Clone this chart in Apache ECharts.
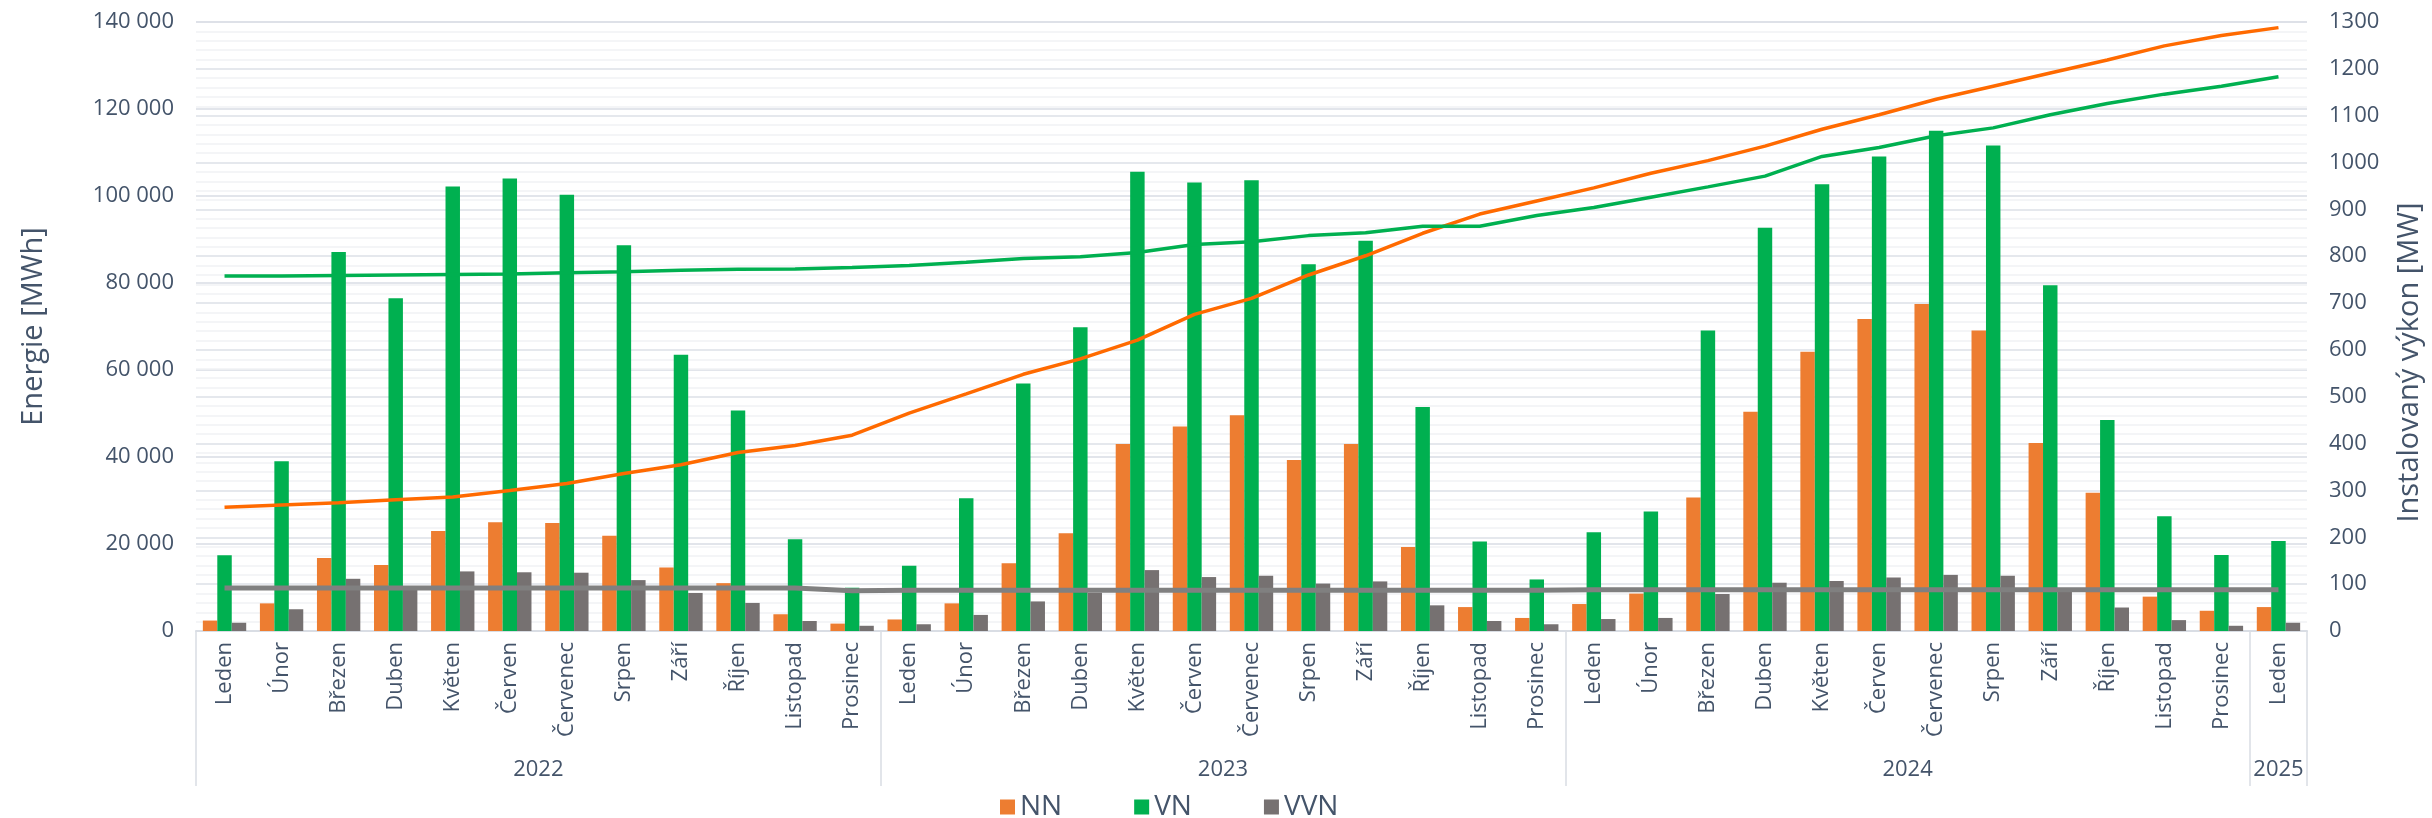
<!DOCTYPE html>
<html><head><meta charset="utf-8">
<script src="https://cdn.jsdelivr.net/npm/echarts@6/dist/echarts.min.js"></script>
<style>html,body{margin:0;padding:0;background:#fff}#c{width:2432px;height:818px}</style>
</head><body><div id="c"></div>
<script>
const monthNames = ['Leden','Únor','Březen','Duben','Květen','Červen','Červenec','Srpen','Září','Říjen','Listopad','Prosinec'];
const months = [...monthNames, ...monthNames, ...monthNames, 'Leden'];
const years = [
  2022,2022,2022,2022,2022,2022,2022,2022,2022,2022,2022,2022,
  2023,2023,2023,2023,2023,2023,2023,2023,2023,2023,2023,2023,
  2024,2024,2024,2024,2024,2024,2024,2024,2024,2024,2024,2024,
  2025
];
// Energie [MWh]
const nnEnergy = [
  2400, 6350, 16800, 15200, 23000, 25000, 24800, 21900, 14600, 11000, 3850, 1700,
  2650, 6350, 15600, 22500, 43000, 47000, 49600, 39300, 43000, 19300, 5500, 3000,
  6200, 8600, 30700, 50400, 64200, 71700, 75200, 69100, 43200, 31800, 7900, 4650,
  5500
];
const vnEnergy = [
  17400, 39000, 87100, 76500, 102200, 104000, 100300, 88700, 63500, 50700, 21100, 9950,
  15000, 30500, 56900, 69800, 105600, 103100, 103600, 84300, 89700, 51500, 20600, 11850,
  22700, 27500, 69100, 92700, 102700, 109100, 115000, 111600, 79500, 48500, 26400, 17500,
  20700
];
const vvnEnergy = [
  1900, 5000, 12000, 10200, 13700, 13500, 13400, 11700, 8750, 6450, 2300, 1200,
  1550, 3700, 6800, 8800, 14000, 12400, 12700, 10900, 11400, 5900, 2300, 1550,
  2750, 3000, 8500, 11100, 11500, 12300, 12900, 12700, 9600, 5400, 2500, 1200,
  1900
];
// Instalovaný výkon [MW]
const nnPower = [
  264, 269, 274, 280, 286, 300, 315, 336, 355, 381, 396, 418,
  465, 506, 548, 581, 621, 676, 710, 760, 801, 849, 890, 918,
  946, 977, 1004, 1035, 1071, 1102, 1135, 1163, 1191, 1219, 1249, 1271,
  1288
];
const vnPower = [
  758, 758, 759, 760, 761, 762, 765, 767, 770, 772, 773, 776,
  780, 787, 795, 799, 808, 825, 831, 844, 850, 864, 864, 887,
  904, 926, 948, 971, 1013, 1032, 1057, 1074, 1102, 1126, 1146, 1163,
  1183
];
const vvnPower = [
  92, 92, 92, 92, 92, 92, 92, 92, 92, 92, 92, 86,
  87, 87, 87, 87, 87, 87, 87, 87, 87, 87, 87, 87,
  88, 88, 88, 88, 88, 88, 88, 88, 88, 88, 88, 88,
  88
];

const groups = [];
years.forEach((y, i) => {
  const g = groups[groups.length - 1];
  if (!g || g.year !== y) groups.push({year: y, start: i, end: i + 1});
  else g.end = i + 1;
});
const sepValues = [0, ...groups.map(g => g.end)];
const yearCenters = groups.map(g => (g.start + g.end) / 2);

const TXT = '#44546A';
const FONT = 'Open Sans';
const fmt = v => String(v).replace(/\B(?=(\d{3})+(?!\d))/g, ' ');

const chart = echarts.init(document.getElementById('c'), null, {renderer: 'canvas'});
chart.setOption({
  animation: false,
  textStyle: {fontFamily: FONT},
  grid: {left: 196, right: 122, top: 22, bottom: 187},
  legend: {
    data: ['NN', 'VN', 'VVN'],
    left: 995, top: 788,
    itemWidth: 15, itemHeight: 15, itemGap: 72,
    icon: 'rect',
    textStyle: {fontSize: 28, color: TXT, fontFamily: FONT}
  },
  xAxis: [
    {
      type: 'category', data: months,
      axisLine: {show: true, lineStyle: {color: '#D9DDE4', width: 2}},
      axisTick: {show: false},
      axisLabel: {interval: 0, rotate: 90, margin: 11, fontSize: 22, color: TXT, fontFamily: FONT}
    },
    {
      type: 'value', min: 0, max: months.length, position: 'bottom',
      axisLine: {show: false}, splitLine: {show: false},
      axisTick: {show: true, customValues: sepValues, length: 155, lineStyle: {color: '#D9DDE4', width: 1.5}},
      axisLabel: {
        customValues: yearCenters, margin: 128, fontSize: 22, color: TXT, fontFamily: FONT,
        formatter: v => { const g = groups.find(g => Math.abs((g.start + g.end) / 2 - v) < 1e-6); return g ? String(g.year) : ''; }
      }
    }
  ],
  yAxis: [
    {
      type: 'value', min: 0, max: 140000, interval: 20000,
      name: 'Energie [MWh]', nameLocation: 'middle', nameRotate: 90, nameGap: 148,
      nameTextStyle: {fontSize: 29, color: TXT, fontFamily: FONT},
      axisLine: {show: false}, axisTick: {show: false},
      axisLabel: {formatter: fmt, fontSize: 22, color: TXT, margin: 22, fontFamily: FONT},
      splitLine: {show: true, lineStyle: {color: '#D9DDE4', width: 1.5}}
    },
    {
      type: 'value', min: 0, max: 1300, interval: 100, position: 'right',
      name: 'Instalovaný výkon [MW]', nameLocation: 'middle', nameRotate: 90, nameGap: 88,
      nameTextStyle: {fontSize: 29, color: TXT, fontFamily: FONT, padding: [0, 72, 0, 0]},
      axisLine: {show: false}, axisTick: {show: false},
      axisLabel: {formatter: v => String(v), fontSize: 22, color: TXT, margin: 22, fontFamily: FONT},
      splitLine: {show: true, lineStyle: {color: '#DDE1E7', width: 1.5}},
      minorTick: {show: false, splitNumber: 5},
      minorSplitLine: {show: true, lineStyle: {color: '#F1F2F5', width: 1.5}}
    }
  ],
  series: [
    {name: 'NN', type: 'bar', data: nnEnergy, itemStyle: {color: '#ED7D31'}, barGap: '0%', barCategoryGap: '24%'},
    {name: 'VN', type: 'bar', data: vnEnergy, itemStyle: {color: '#00B050'}, barGap: '0%', barCategoryGap: '24%'},
    {name: 'VVN', type: 'bar', data: vvnEnergy, itemStyle: {color: '#767171'}, barGap: '0%', barCategoryGap: '24%'},
    {name: 'NN výkon', type: 'line', yAxisIndex: 1, data: nnPower, showSymbol: false, symbol: 'none', lineStyle: {color: '#FF6A00', width: 3.5}, z: 5},
    {name: 'VN výkon', type: 'line', yAxisIndex: 1, data: vnPower, showSymbol: false, symbol: 'none', lineStyle: {color: '#00B050', width: 3.5}, z: 5},
    {name: 'VVN výkon', type: 'line', yAxisIndex: 1, data: vvnPower, showSymbol: false, symbol: 'none', lineStyle: {color: '#808080', width: 5}, z: 5}
  ]
});
</script>
</body></html>
